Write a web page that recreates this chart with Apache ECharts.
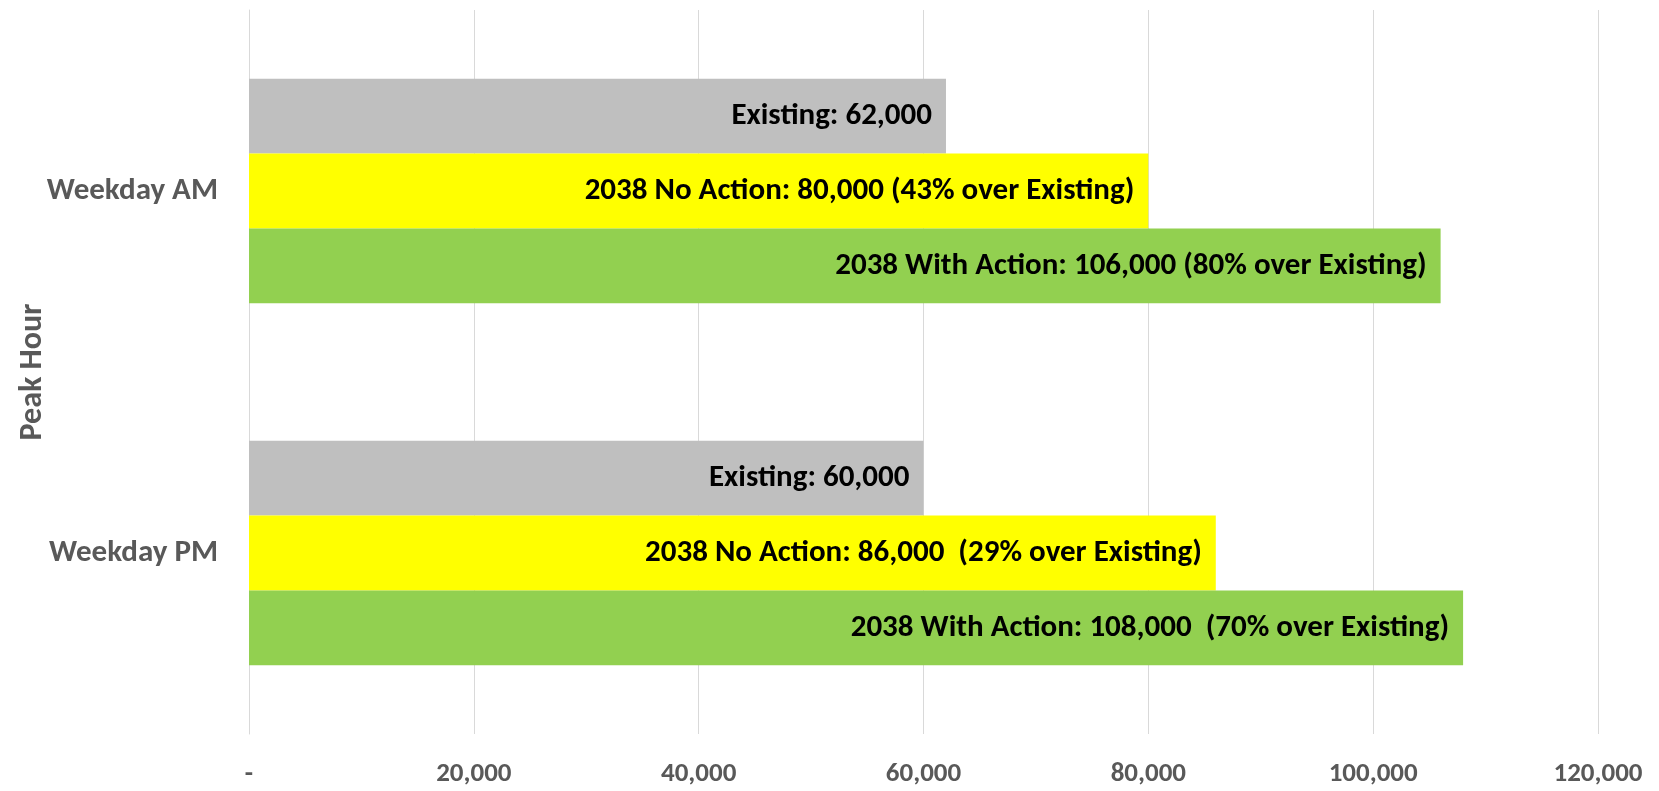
<!DOCTYPE html>
<html>
<head>
<meta charset="utf-8">
<script src="https://cdn.jsdelivr.net/npm/echarts@6/dist/echarts.min.js"></script>
<style>
  html, body { margin: 0; padding: 0; background: #fff; }
  #chart { width: 1659px; height: 791px; }
</style>
</head>
<body>
<div id="chart"></div>
<script>
var categories = ['Weekday AM', 'Weekday PM']
var seriesNames = ['Existing', '2038 No Action', '2038 With Action']
var existing = [62000, 60000]
var noAction = [80000, 86000]
var withAction = [106000, 108000]
var existingLabels = ['Existing: 62,000', 'Existing: 60,000']
var noActionLabels = ['2038 No Action: 80,000 (43% over Existing)', '2038 No Action: 86,000  (29% over Existing)']
var withActionLabels = ['2038 With Action: 106,000 (80% over Existing)', '2038 With Action: 108,000  (70% over Existing)']
var xTickLabels = ['-', '20,000', '40,000', '60,000', '80,000', '100,000', '120,000']

var font = 'Carlito, Lato, sans-serif'
var axisGrey = '#595959'

function barSeries(name, values, labels, color) {
  return {
    name: name,
    type: 'bar',
    data: values,
    barGap: '0%',
    barCategoryGap: '38%',
    itemStyle: { color: color },
    label: {
      show: true,
      position: 'insideRight',
      distance: 14,
      color: '#000',
      fontFamily: font,
      fontWeight: 'bold',
      fontSize: 31,
      formatter: function (p) { return labels[p.dataIndex] }
    }
  }
}

var chart = echarts.init(document.getElementById('chart'))
chart.setOption({
  backgroundColor: '#fff',
  animation: false,
  grid: { left: 249, right: 61, top: 10, bottom: 57, outerBoundsMode: 'none' },
  xAxis: {
    type: 'value',
    min: 0,
    max: 120000,
    interval: 20000,
    axisLine: { show: false },
    axisTick: { show: false },
    splitLine: { lineStyle: { color: '#d9d9d9', width: 1 } },
    axisLabel: {
      margin: 27,
      color: axisGrey,
      fontFamily: font,
      fontWeight: 'bold',
      fontSize: 27,
      formatter: function (v) { return xTickLabels[Math.round(v / 20000)] }
    }
  },
  yAxis: {
    type: 'category',
    inverse: true,
    data: categories,
    name: 'Peak Hour',
    nameLocation: 'middle',
    nameGap: 200,
    nameRotate: 90,
    nameMoveOverlap: false,
    nameTextStyle: { color: axisGrey, fontFamily: font, fontWeight: 'bold', fontSize: 32 },
    axisLine: { show: true, lineStyle: { color: '#d9d9d9', width: 1 } },
    axisTick: { show: false },
    axisLabel: {
      margin: 31,
      color: axisGrey,
      fontFamily: font,
      fontWeight: 'bold',
      fontSize: 31
    }
  },
  series: [
    barSeries(seriesNames[0], existing, existingLabels, '#bfbfbf'),
    barSeries(seriesNames[1], noAction, noActionLabels, '#ffff00'),
    barSeries(seriesNames[2], withAction, withActionLabels, '#92d050')
  ]
})
</script>
</body>
</html>
